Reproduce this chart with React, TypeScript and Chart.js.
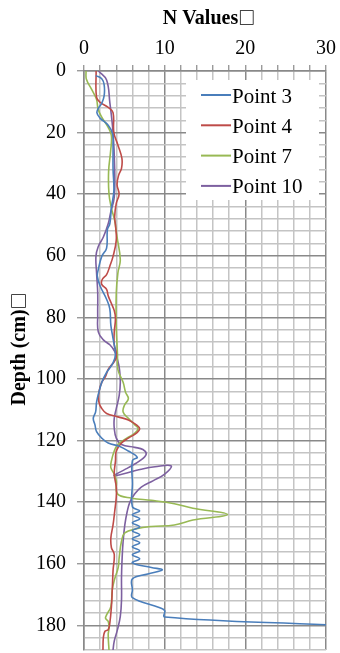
import React, { useEffect, useRef } from "react";
import { Chart, registerables } from "chart.js";

Chart.register(...registerables);

const SERIF = "'Liberation Serif', 'Times New Roman', serif";
const MARK_FONT = "bold 17px 'Noto Sans CJK SC', 'DejaVu Sans', sans-serif";

const xTitle = "N Values";
const yTitle = "Depth (cm)";
const titleMark = "□";

const xMin = 0;
const xMax = 30;
const xGridStep = 2;
const xLabelStep = 10;
const yMin = 0;
const yMax = 188;
const yGridStep = 4;
const yLabelStep = 20;

const seriesNames = ["Point 3", "Point 4", "Point 7", "Point 10"];
const seriesColors = ["#4A7EBB", "#BE4B48", "#98B954", "#7D60A0"];

const point3N = [1.45, 2.2, 2.5, 2.5, 2.2, 1.85, 1.6, 2.0, 3.0, 3.55, 3.6, 3.6, 3.7, 3.4, 3.2, 2.9, 2.8, 2.2, 1.77, 1.65, 2.0, 2.8, 3.2, 3.33, 3.6, 3.9, 3.6, 2.8, 2.2, 1.85, 1.56, 1.44, 1.15, 1.36, 1.56, 2.2, 3.0, 4.44, 5.5, 6.6, 6.0, 6.0, 6.0, 6.9, 6.0, 6.9, 6.0, 6.9, 6.0, 6.9, 6.0, 6.9, 6.0, 6.9, 6.0, 6.9, 6.0, 8.35, 9.7, 7.9, 6.0, 6.0, 6.0, 9.4, 10.0, 10.0, 30];
const point3Depth = [1.5, 2.5, 4.5, 8, 10.5, 11.8, 13.5, 15.3, 17.6, 20.4, 24, 31.6, 39, 44.3, 49.6, 51.5, 57.5, 60.2, 64.5, 66.6, 69.8, 74.1, 77.2, 82.6, 86.8, 92, 94.8, 97.9, 101.1, 104.3, 107.5, 110.7, 112.8, 114.9, 117.1, 119.2, 120.8, 121.9, 123.4, 125.4, 126.5, 134, 141.5, 142.8, 144.1, 145.4, 146.7, 148, 149.3, 150.6, 151.9, 153.2, 154.5, 155.8, 157.1, 158.4, 159.7, 161.2, 162, 163.3, 164.9, 168.5, 171, 174.3, 175.2, 177.3, 179.8];

const point4N = [1.5, 1.55, 2.0, 3.0, 3.6, 3.7, 4.2, 4.7, 4.65, 4.3, 4.1, 4.35, 4.0, 3.8, 3.9, 4.0, 3.6, 3.2, 2.8, 2.26, 2.2, 2.8, 3.0, 3.33, 3.75, 3.9, 3.75, 3.75, 4.0, 3.9, 3.0, 2.7, 2.2, 1.85, 1.85, 2.2, 2.8, 4.2, 5.5, 6.5, 6.9, 6.5, 5.5, 4.65, 4.0, 3.9, 3.75, 4.0, 4.0, 3.8, 3.6, 3.33, 3.4, 3.75, 3.6, 3.5, 3.4, 3.2, 3.0, 2.6, 2.4, 2.35];
const point4Depth = [0, 8.5, 10.2, 11.8, 13.5, 20, 24, 28.4, 31.6, 33.8, 36.9, 40, 43, 47.3, 50, 54.9, 60.2, 63.4, 66.1, 67.7, 69.3, 70.9, 73, 75.1, 77.8, 80.4, 84.7, 88.9, 91.5, 93.7, 96.9, 99, 101.1, 104.3, 107.5, 109.6, 111.2, 112.3, 113.3, 114.9, 116.2, 117.6, 119.2, 120.8, 123.4, 126.6, 130.9, 135.1, 138.3, 143.1, 147.4, 151.6, 154.8, 156.9, 162.3, 168.6, 173.9, 179.3, 181.4, 181.9, 184, 188];

const point7N = [0.25, 0.3, 0.95, 1.55, 1.75, 2.2, 3.0, 3.4, 3.3, 3.05, 3.1, 3.4, 3.8, 4.1, 4.5, 4.2, 4.0, 4.0, 4.15, 4.2, 4.85, 5.15, 5.5, 5.0, 4.85, 5.5, 6.3, 6.7, 6.3, 5.3, 4.2, 3.75, 3.4, 3.33, 3.75, 4.0, 4.15, 5.9, 8.35, 11.2, 13.5, 17.8, 13.5, 11.2, 8.35, 6.5, 5.06, 4.65, 4.36, 4.24, 3.75, 3.5, 3.33, 2.8, 2.67, 3.0, 3.1, 3.0, 3.1];
const point7Depth = [0, 2.7, 6, 9.2, 12.4, 15, 18.3, 21, 26, 32.6, 40, 44.5, 48.5, 53.9, 61.3, 65.6, 72, 83, 92, 96.9, 101.1, 104.3, 106.4, 108.6, 110.7, 112.8, 114.9, 116, 117.6, 119.2, 121.3, 123.4, 126.6, 128.8, 130.9, 133, 137.3, 138.7, 139.4, 140.5, 142, 144, 145.8, 147.4, 147.9, 148.65, 150, 152.7, 158, 161.2, 165.4, 168.6, 173.9, 176.6, 177.7, 178.7, 180.9, 183, 188];

const point10N = [1.8, 2.8, 3.2, 3.6, 3.8, 3.75, 3.3, 3.0, 2.4, 1.77, 1.48, 1.56, 1.7, 1.7, 1.77, 2.4, 3.2, 3.8, 4.15, 4.4, 4.5, 4.36, 4.0, 3.75, 3.75, 4.0, 4.65, 6.3, 7.3, 7.7, 6.9, 5.5, 3.75, 7.1, 8.8, 10.8, 10.0, 8.6, 7.1, 6.3, 5.7, 5.35, 5.06, 4.85, 4.73, 4.65, 4.65, 4.5, 4.15, 3.75, 3.6];
const point10Depth = [0, 2.9, 10.2, 19.9, 31.6, 41, 46, 49.6, 53.9, 57, 60.2, 65.6, 72, 79.4, 84.7, 87.3, 88.9, 91, 93.7, 96.9, 101.1, 105.4, 109.6, 112.8, 116, 119.2, 121.3, 122.2, 122.9, 124.5, 126.6, 128.8, 131.4, 129.3, 128.5, 128.2, 130.9, 133, 135.1, 137.3, 139.9, 143.1, 147.4, 152.7, 158, 164.4, 171.8, 177.1, 181.4, 185.1, 188];

const seriesN = [point3N, point4N, point7N, point10N];
const seriesDepth = [point3Depth, point4Depth, point7Depth, point10Depth];

const MAJOR = "#898989";
const MINOR = "#c4c4c4";

function drawTitle(ctx: CanvasRenderingContext2D, text: string, cx: number) {
  ctx.font = `bold 20px ${SERIF}`;
  const w1 = ctx.measureText(text).width;
  ctx.font = MARK_FONT;
  const w2 = ctx.measureText(titleMark).width;
  const start = cx - (w1 + w2) / 2;
  ctx.textAlign = "left";
  ctx.textBaseline = "alphabetic";
  ctx.font = `bold 20px ${SERIF}`;
  ctx.fillText(text, start, 0);
  ctx.font = MARK_FONT;
  ctx.fillText(titleMark, start + w1, 0);
}

const titlesPlugin = {
  id: "axisTitles",
  afterDraw(chart: any) {
    const { ctx, chartArea } = chart;
    ctx.save();
    ctx.fillStyle = "#000";
    ctx.save();
    ctx.translate(0, 24);
    drawTitle(ctx, xTitle, chartArea.left + 125);
    ctx.restore();
    ctx.translate(25, 349);
    ctx.rotate(-Math.PI / 2);
    drawTitle(ctx, yTitle, 0);
    ctx.restore();
  },
};

const legendPlugin = {
  id: "insideLegend",
  afterDraw(chart: any) {
    const { ctx, chartArea } = chart;
    const left = chartArea.right - 140;
    const top = chartArea.top + 9;
    ctx.save();
    ctx.fillStyle = "#fff";
    ctx.fillRect(left, top, 133, 120);
    ctx.font = `21px ${SERIF}`;
    ctx.textAlign = "left";
    ctx.textBaseline = "middle";
    seriesNames.forEach((name, i) => {
      const y = top + 15 + i * 30.3;
      ctx.strokeStyle = seriesColors[i];
      ctx.lineWidth = 2;
      ctx.beginPath();
      ctx.moveTo(left + 15, y);
      ctx.lineTo(left + 45, y);
      ctx.stroke();
      ctx.fillStyle = "#000";
      ctx.fillText(name, left + 46, y + 2);
    });
    ctx.restore();
  },
};

export default function App() {
  const ref = useRef<HTMLCanvasElement>(null);
  useEffect(() => {
    const datasets = seriesNames.map((name, i) => ({
      label: name,
      data: seriesN[i].map((v, j) => ({ x: v, y: seriesDepth[i][j] })),
      showLine: true,
      borderColor: seriesColors[i],
      backgroundColor: seriesColors[i],
      borderWidth: 1.6,
      pointRadius: 0,
      tension: 0.4,
      fill: false,
    }));
    const chart = new Chart(ref.current as HTMLCanvasElement, {
      type: "scatter",
      data: { datasets },
      options: {
        animation: false,
        responsive: false,
        devicePixelRatio: 1,
        events: [],
        layout: { padding: { left: 0, top: 0, right: 13, bottom: 12 } },
        plugins: {
          legend: { display: false },
          tooltip: { enabled: false },
        },
        scales: {
          x: {
            type: "linear",
            position: "top",
            min: xMin,
            max: xMax,
            afterFit: (s: any) => {
              s.height = 71;
            },
            ticks: {
              stepSize: xGridStep,
              autoSkip: false,
              maxRotation: 0,
              padding: 4,
              color: "#000",
              font: { family: SERIF, size: 20 },
              callback: (v: any) => (Number(v) % xLabelStep === 0 ? String(v) : ""),
            },
            grid: {
              color: (c: any) => (c.tick && c.tick.value % xLabelStep === 0 ? MAJOR : MINOR),
              lineWidth: 1.5,
              tickLength: 6,
              tickColor: MAJOR,
              tickWidth: 1.2,
            },
            border: { color: MAJOR, width: 1.5 },
          },
          y: {
            type: "linear",
            reverse: true,
            min: yMin,
            max: yMax,
            afterFit: (s: any) => {
              s.width = 84;
            },
            ticks: {
              stepSize: yGridStep,
              autoSkip: false,
              padding: 11,
              color: "#000",
              font: { family: SERIF, size: 20 },
              callback: (v: any) => (Number(v) % yLabelStep === 0 ? String(v) : ""),
            },
            grid: {
              color: (c: any) => (c.tick && c.tick.value % yLabelStep === 0 ? MAJOR : MINOR),
              lineWidth: 1.5,
              tickLength: 7,
              tickColor: (c: any) =>
                c.tick && c.tick.value % yLabelStep === 0 ? MAJOR : "rgba(0,0,0,0)",
              tickWidth: 1.2,
            },
            border: { color: MAJOR, width: 1.5 },
          },
        },
      },
      plugins: [titlesPlugin, legendPlugin],
    } as any);
    return () => chart.destroy();
  }, []);
  return (
    <div
      style={{
        position: "fixed",
        left: 0,
        top: 0,
        width: 340,
        height: 653,
        overflow: "hidden",
        background: "#fff",
      }}
    >
      <canvas ref={ref} width={340} height={673} style={{ display: "block", width: 340, height: 673 }} />
    </div>
  );
}
